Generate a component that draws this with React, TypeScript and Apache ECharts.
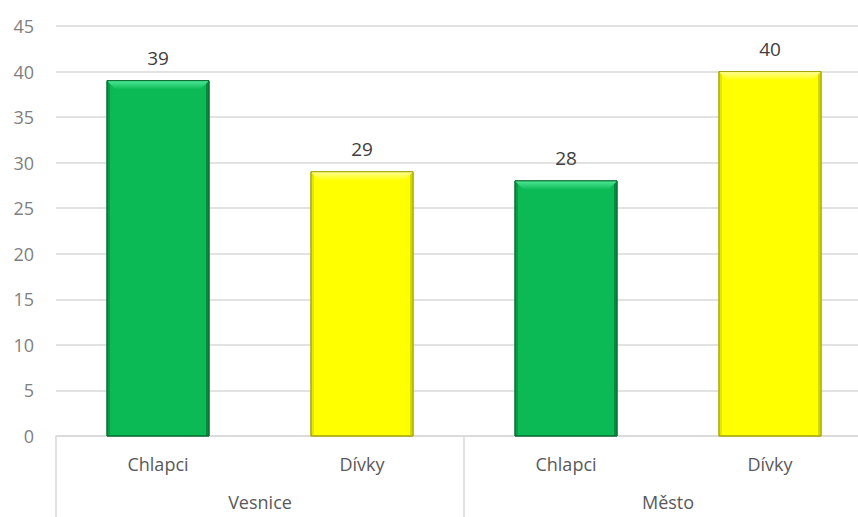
import React, { useEffect, useRef } from "react";
import * as echarts from "echarts";

const categories = ["Chlapci", "Dívky", "Chlapci", "Dívky"];
const groups = ["Vesnice", "Město"];
const values = [39, 29, 28, 40];
const seriesKind = [0, 1, 0, 1]; // 0 = boys (green), 1 = girls (yellow)

const palettes = [
  { main: "#0bb955", light: "#4ee896", dark: "#07883d", edge: "#066b30" },
  { main: "#ffff00", light: "#ffff99", dark: "#d6d600", edge: "#a3a300" },
];

const FONT = "'Open Sans', 'Noto Sans', sans-serif";

export default function App() {
  const ref = useRef<HTMLDivElement>(null);
  useEffect(() => {
    if (!ref.current) return;
    const chart = echarts.init(ref.current, undefined, { renderer: "svg" });
    chart.setOption({
      animation: false,
      backgroundColor: "#ffffff",
      textStyle: { fontFamily: FONT },
      grid: { left: 56, right: 0, top: 26, bottom: 81, containLabel: false },
      xAxis: [
        {
          type: "category",
          data: categories,
          position: "bottom",
          axisLine: { show: true, lineStyle: { color: "#d9d9d9", width: 1.5 } },
          axisTick: { show: false },
          axisLabel: { fontSize: 18, color: "#595959", margin: 19, fontFamily: FONT },
          splitLine: { show: false },
        },
        {
          type: "category",
          data: groups,
          position: "bottom",
          axisLine: { show: false },
          axisTick: { show: true, length: 81, lineStyle: { color: "#d9d9d9", width: 1.5 } },
          axisLabel: { fontSize: 18, color: "#595959", margin: 57, fontFamily: FONT },
          splitLine: { show: false },
        },
      ],
      yAxis: {
        type: "value",
        min: 0,
        max: 45,
        interval: 5,
        axisLine: { show: false },
        axisTick: { show: false },
        axisLabel: { fontSize: 18, color: "#7f7f7f", margin: 22, fontFamily: FONT },
        splitLine: { lineStyle: { color: "#d9d9d9", width: 1.5 } },
      },
      series: [
        {
          type: "custom",
          xAxisIndex: 0,
          yAxisIndex: 0,
          encode: { x: 0, y: 1 },
          data: values.map((v, i) => [i, v, seriesKind[i]]),
          renderItem: (params: any, api: any) => {
            const idx = api.value(0);
            const val = api.value(1);
            const kind = api.value(2);
            const p = palettes[kind];
            const base = api.coord([idx, 0]);
            const top = api.coord([idx, val]);
            const bw = api.size([1, 0])[0] * 0.5;
            const x = top[0] - bw / 2;
            const y = top[1];
            const h = base[1] - top[1];
            const b = 9;
            const s = 3;
            return {
              type: "group",
              children: [
                {
                  type: "rect",
                  shape: { x, y, width: bw, height: h },
                  style: { fill: p.main, stroke: p.edge, lineWidth: 1 },
                },
                {
                  type: "polygon",
                  shape: {
                    points: [
                      [x + s, y + s],
                      [x + s, y + h],
                      [x, y + h],
                      [x, y],
                    ],
                  },
                  style: { fill: p.dark, opacity: 0.6 },
                },
                {
                  type: "polygon",
                  shape: {
                    points: [
                      [x + bw - s, y + s],
                      [x + bw - s, y + h],
                      [x + bw, y + h],
                      [x + bw, y],
                    ],
                  },
                  style: { fill: p.dark },
                },
                {
                  type: "polygon",
                  shape: {
                    points: [
                      [x, y],
                      [x + bw, y],
                      [x + bw - b, y + b],
                      [x + b, y + b],
                    ],
                  },
                  style: {
                    fill: new echarts.graphic.LinearGradient(0, 0, 0, 1, [
                      { offset: 0, color: p.light },
                      { offset: 1, color: p.main },
                    ]),
                  },
                },
                {
                  type: "rect",
                  shape: { x, y, width: bw, height: h },
                  style: { fill: "none", stroke: p.edge, lineWidth: 1 },
                },
                {
                  type: "text",
                  x: top[0],
                  y: y - 13,
                  style: {
                    text: String(val),
                    align: "center",
                    verticalAlign: "bottom",
                    fontSize: 19,
                    fontFamily: FONT,
                    fill: "#404040",
                  },
                },
              ],
            };
          },
        },
      ],
    });
    return () => chart.dispose();
  }, []);
  return (
    <div
      style={{
        position: "fixed",
        left: 0,
        top: 0,
        width: 858,
        height: 517,
        overflow: "hidden",
        background: "#fff",
      }}
    >
      <div ref={ref} style={{ width: 872, height: 517 }} />
    </div>
  );
}
